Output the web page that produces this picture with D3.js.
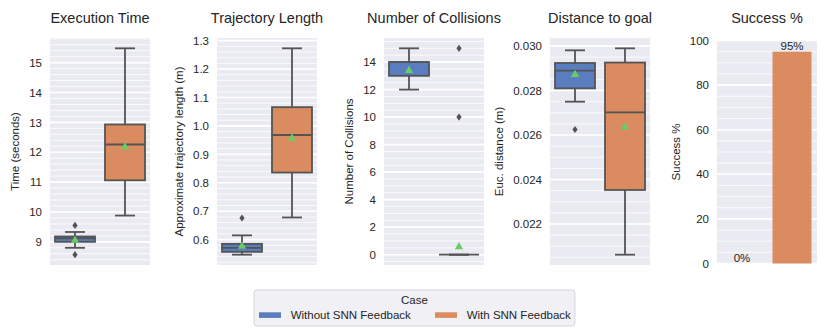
<!DOCTYPE html>
<html>
<head>
<meta charset="utf-8">
<script src="https://cdn.jsdelivr.net/npm/d3@7"></script>
<style>
  body { margin: 0; background: #fff; }
  svg { font-family: "Liberation Sans", Arial, sans-serif; }
</style>
</head>
<body>
<svg width="830" height="332"></svg>
<script>
const cases = ['Without SNN Feedback', 'With SNN Feedback'];
const titles = ['Execution Time', 'Trajectory Length', 'Number of Collisions', 'Distance to goal', 'Success %'];
const yLabels = ['Time (seconds)', 'Approximate trajectory length (m)', 'Number of Collisions', 'Euc. distance (m)', 'Success %'];

// box stats per case: [lower whisker, q1, median, q3, upper whisker]
const timeBoxes = [[8.80, 9.00, 9.12, 9.18, 9.33], [9.88, 11.06, 12.26, 12.93, 15.48]];
const timeMeans = [9.08, 12.21];
const timeFliers = [[9.55, 8.57], []];

const lengthBoxes = [[0.547, 0.557, 0.571, 0.585, 0.615], [0.678, 0.836, 0.968, 1.066, 1.273]];
const lengthMeans = [0.580, 0.960];
const lengthFliers = [[0.676], []];

const collisionBoxes = [[12, 13, 14, 14, 15], [0, 0, 0, 0, 0]];
const collisionMeans = [13.45, 0.65];
const collisionFliers = [[], [15, 10]];

const distBoxes = [[0.02750, 0.02810, 0.02890, 0.02924, 0.02981], [0.02062, 0.02353, 0.02702, 0.02926, 0.02990]];
const distMeans = [0.02876, 0.02640];
const distFliers = [[0.02625], []];

const successRates = [0, 95];

const timeTicks = [9, 10, 11, 12, 13, 14, 15];
const lengthTicks = [0.6, 0.7, 0.8, 0.9, 1.0, 1.1, 1.2, 1.3];
const collisionTicks = [0, 2, 4, 6, 8, 10, 12, 14];
const distTicks = [0.022, 0.024, 0.026, 0.028, 0.030];
const successTicks = [0, 20, 40, 60, 80, 100];

const colors = ['#597dbf', '#da8b5f'];
const gray = '#545454';
const meanColor = '#6acc64';
const textColor = '#262626';

const svg = d3.select('svg');

const panels = [
  { boxes: timeBoxes, means: timeMeans, fliers: timeFliers, ticks: timeTicks, fmt: d3.format('d'), minor: 0.2 },
  { boxes: lengthBoxes, means: lengthMeans, fliers: lengthFliers, ticks: lengthTicks, fmt: d3.format('.1f'), minor: 0.02 },
  { boxes: collisionBoxes, means: collisionMeans, fliers: collisionFliers, ticks: collisionTicks, fmt: d3.format('d'), minor: 0.5 },
  { boxes: distBoxes, means: distMeans, fliers: distFliers, ticks: distTicks, fmt: d3.format('.3f'), minor: 0.0005 },
  { bars: successRates, ticks: successTicks, fmt: d3.format('d'), minor: 5 }
];

const lefts = [50, 217, 384, 550, 717];
const plotW = 100;

panels.forEach((p, i) => {
  const top = p.bars ? 40.5 : 38;
  const bottom = p.bars ? 263.5 : 265;
  const h = bottom - top;

  let domain;
  if (p.bars) {
    domain = [0, 100];
  } else {
    const all = p.boxes.flat().concat(p.fliers.flat());
    const lo = d3.min(all), hi = d3.max(all), pad = (hi - lo) * 0.05;
    domain = [lo - pad, hi + pad];
  }

  const y = d3.scaleLinear().domain(domain).range([h, 0]);
  const x = d3.scaleBand().domain(cases).range([0, plotW]);

  const g = svg.append('g').attr('transform', `translate(${lefts[i]},${top})`);

  g.append('rect').attr('width', plotW).attr('height', h).attr('fill', '#eaeaf2');

  // minor grid
  const minorTicks = d3.range(Math.ceil(domain[0] / p.minor - 1e-6), Math.floor(domain[1] / p.minor + 1e-6) + 1)
    .map(k => k * p.minor);
  g.selectAll('.minor').data(minorTicks).enter().append('line')
    .attr('x1', 0).attr('x2', plotW)
    .attr('y1', d => y(d)).attr('y2', d => y(d))
    .attr('stroke', '#fff').attr('stroke-width', 0.8);

  // major grid
  g.selectAll('.major').data(p.ticks).enter().append('line')
    .attr('x1', 0).attr('x2', plotW)
    .attr('y1', d => y(d)).attr('y2', d => y(d))
    .attr('stroke', '#fff').attr('stroke-width', 1.6);

  const axis = g.append('g')
    .call(d3.axisLeft(y).tickValues(p.ticks).tickFormat(p.fmt).tickSize(0).tickPadding(8));
  axis.select('.domain').remove();
  axis.selectAll('text').attr('fill', textColor).style('font-size', '11.5px');

  const bb = axis.node().getBBox();
  g.append('text')
    .attr('transform', `translate(${bb.x - 10},${h / 2}) rotate(-90)`)
    .attr('text-anchor', 'middle')
    .attr('fill', textColor)
    .style('font-size', '11.5px')
    .text(yLabels[i]);

  svg.append('text')
    .attr('x', lefts[i] + plotW / 2).attr('y', 23)
    .attr('text-anchor', 'middle')
    .attr('fill', textColor)
    .style('font-size', '14.5px')
    .text(titles[i]);

  if (p.bars) {
    const bw = x.bandwidth() * 0.78;
    g.selectAll('.bar').data(p.bars).enter().append('rect')
      .attr('x', (d, j) => x(cases[j]) + (x.bandwidth() - bw) / 2)
      .attr('width', bw)
      .attr('y', d => y(d))
      .attr('height', d => h - y(d))
      .attr('fill', (d, j) => colors[j]);
    g.selectAll('.lbl').data(p.bars).enter().append('text')
      .attr('x', (d, j) => x(cases[j]) + x.bandwidth() / 2)
      .attr('y', d => y(d) - 1.5)
      .attr('text-anchor', 'middle')
      .attr('fill', textColor)
      .style('font-size', '11.5px')
      .text(d => d + '%');
    return;
  }

  const bw = x.bandwidth() * 0.8;
  p.boxes.forEach((b, j) => {
    const cx = x(cases[j]) + x.bandwidth() / 2;
    const [lo, q1, med, q3, hi] = b;
    const bg = g.append('g');
    bg.append('line').attr('x1', cx).attr('x2', cx).attr('y1', y(q3)).attr('y2', y(hi))
      .attr('stroke', gray).attr('stroke-width', 1.8);
    bg.append('line').attr('x1', cx).attr('x2', cx).attr('y1', y(q1)).attr('y2', y(lo))
      .attr('stroke', gray).attr('stroke-width', 1.8);
    [lo, hi].forEach(v => {
      bg.append('line').attr('x1', cx - bw / 4).attr('x2', cx + bw / 4)
        .attr('y1', y(v)).attr('y2', y(v))
        .attr('stroke', gray).attr('stroke-width', 1.8);
    });
    bg.append('rect')
      .attr('x', cx - bw / 2).attr('width', bw)
      .attr('y', y(q3)).attr('height', y(q1) - y(q3))
      .attr('fill', colors[j]).attr('stroke', gray).attr('stroke-width', 1.8);
    bg.append('line').attr('x1', cx - bw / 2).attr('x2', cx + bw / 2)
      .attr('y1', y(med)).attr('y2', y(med))
      .attr('stroke', gray).attr('stroke-width', 1.8);
    bg.selectAll('.flier').data(p.fliers[j]).enter().append('path')
      .attr('d', 'M0,-3.6L2.6,0L0,3.6L-2.6,0Z')
      .attr('transform', d => `translate(${cx},${y(d)})`)
      .attr('fill', gray);
    bg.append('path')
      .attr('d', 'M0,-3.8L4.2,3.4L-4.2,3.4Z')
      .attr('transform', `translate(${cx},${y(p.means[j])})`)
      .attr('fill', meanColor);
  });
});

// legend
const legend = svg.append('g').attr('transform', 'translate(254,290)');
legend.append('rect')
  .attr('width', 321).attr('height', 36).attr('rx', 3)
  .attr('fill', '#f0f0f5').attr('stroke', '#cfcfcf').attr('stroke-width', 0.8);
legend.append('text')
  .attr('x', 160.5).attr('y', 13.5)
  .attr('text-anchor', 'middle')
  .attr('fill', textColor)
  .style('font-size', '11.5px')
  .text('Case');
const entryX = [5, 181];
cases.forEach((c, j) => {
  legend.append('rect').attr('x', entryX[j]).attr('y', 22.3).attr('width', 22).attr('height', 5.6)
    .attr('fill', colors[j]);
  legend.append('text').attr('x', entryX[j] + 31.7).attr('y', 29)
    .attr('fill', textColor)
    .style('font-size', '11.5px')
    .text(c);
});
</script>
</body>
</html>
